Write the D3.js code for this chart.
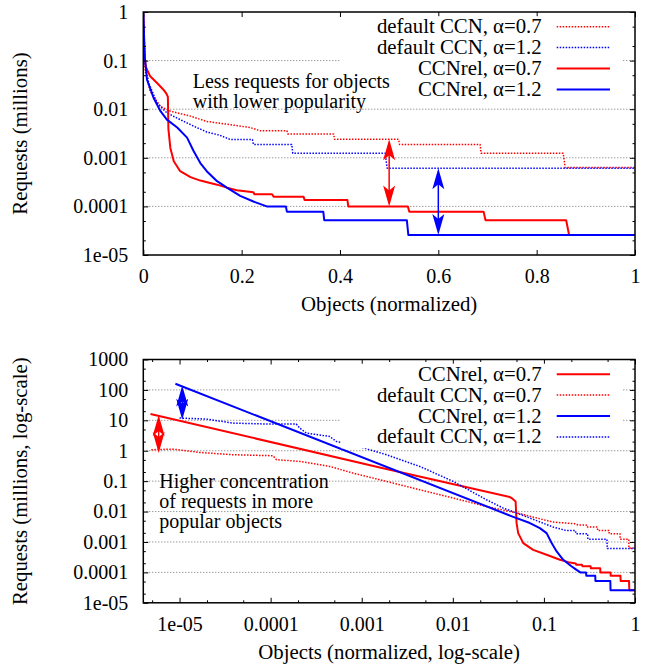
<!DOCTYPE html>
<html>
<head>
<meta charset="utf-8">
<script src="https://cdn.jsdelivr.net/npm/d3@7"></script>
<style>
  body { margin: 0; background: #fff; }
</style>
</head>
<body>
<div id="chart"></div>
<script>
// Series data: [objects (normalized), requests (millions)]
// Top panel (linear x)
const topDefault07 = [[0,1],[0.002,0.113],[0.004,0.06],[0.014,0.0233],[0.035,0.0114],[0.055,0.0091],[0.096,0.0072],[0.129,0.0056],[0.177,0.0048],[0.217,0.0042],[0.238,0.0036],[0.292,0.0036],[0.294,0.0031],[0.387,0.0031],[0.389,0.0024],[0.519,0.0024],[0.521,0.00188],[0.685,0.00188],[0.687,0.00124],[0.854,0.00124],[0.856,0.0009],[0.858,0.00063],[1,0.00063]];
const topDefault12 = [[0,1],[0.004,0.082],[0.011,0.0346],[0.028,0.0134],[0.048,0.0084],[0.075,0.0061],[0.102,0.0045],[0.129,0.0034],[0.156,0.0029],[0.177,0.00237],[0.222,0.00237],[0.224,0.00188],[0.302,0.00188],[0.304,0.00124],[0.492,0.00124],[0.494,0.00085],[0.496,0.00061],[1,0.00061]];
const topRel07 = [[0,1],[0.002,0.15],[0.005,0.075],[0.014,0.0475],[0.028,0.0346],[0.041,0.0252],[0.047,0.021],[0.05,0.018],[0.051,0.004],[0.053,0.0025],[0.055,0.0016],[0.062,0.00085],[0.075,0.00053],[0.096,0.0004],[0.116,0.00034],[0.15,0.00028],[0.17,0.000243],[0.19,0.000215],[0.224,0.000195],[0.226,0.000178],[0.262,0.000178],[0.265,0.000158],[0.326,0.000158],[0.328,0.000136],[0.415,0.000136],[0.417,0.0001],[0.538,0.0001],[0.541,0.000078],[0.692,0.000078],[0.696,0.000052],[0.86,0.000052],[0.866,0.0000258],[1,0.0000258]];
const topRel12 = [[0,1],[0.003,0.12],[0.0075,0.0404],[0.021,0.017],[0.035,0.0091],[0.048,0.0061],[0.069,0.0042],[0.089,0.0026],[0.102,0.0014],[0.116,0.00078],[0.129,0.00053],[0.15,0.00033],[0.17,0.000243],[0.197,0.000165],[0.224,0.000126],[0.251,0.0001],[0.29,0.0001],[0.292,0.000078],[0.366,0.000078],[0.368,0.000052],[0.536,0.000052],[0.539,0.0000258],[1,0.0000258]];

// Bottom panel (log x)
const botRel07 = [[4.8e-6,16.1],[0.00158,0.283],[0.0423,0.03],[0.0442,0.0278],[0.0489,0.0215],[0.0501,0.00418],[0.0522,0.00196],[0.0593,0.00092],[0.0762,0.00055],[0.107,0.00038],[0.15,0.00026],[0.193,0.00021],[0.224,0.000195],[0.226,0.000178],[0.262,0.000178],[0.265,0.000158],[0.326,0.000158],[0.328,0.000136],[0.415,0.000136],[0.417,0.0001],[0.538,0.0001],[0.541,0.000078],[0.692,0.000078],[0.696,0.000052],[0.86,0.000052],[0.866,0.0000258],[1,0.0000258]];
const botDefault07 = [[4.9e-6,1.08],[8.5e-6,1.13],[1.66e-5,0.88],[3.85e-5,0.74],[1.06e-4,0.685],[1.16e-4,0.506],[2.08e-4,0.446],[3.45e-4,0.346],[4.45e-4,0.305],[8.0e-4,0.184],[0.00187,0.098],[0.00434,0.052],[0.0101,0.0278],[0.0234,0.0147],[0.0545,0.0085],[0.126,0.0045],[0.217,0.004],[0.238,0.0036],[0.292,0.0036],[0.294,0.0031],[0.387,0.0031],[0.389,0.0024],[0.519,0.0024],[0.521,0.00188],[0.685,0.00188],[0.687,0.00124],[0.854,0.00124],[0.856,0.0009],[0.858,0.00063],[1,0.00063]];
const botRel12 = [[9.0e-6,160],[0.046,0.0067],[0.0702,0.0042],[0.0903,0.00286],[0.107,0.00196],[0.1216,0.00092],[0.138,0.00049],[0.163,0.00026],[0.197,0.000165],[0.224,0.000126],[0.251,0.0001],[0.29,0.0001],[0.292,0.000078],[0.366,0.000078],[0.368,0.000052],[0.536,0.000052],[0.539,0.0000258],[1,0.0000258]];
const botDefault12 = [[1e-5,11.9],[1.96e-5,11.0],[3.85e-5,8.1],[8.97e-5,7.55],[1.91e-4,7.55],[2.08e-4,5.6],[2.47e-4,3.8],[4.45e-4,2.95],[5.27e-4,2.02],[8.0e-4,1.57],[0.00187,0.738],[0.00434,0.305],[0.0101,0.098],[0.0234,0.0244],[0.0357,0.013],[0.0545,0.0082],[0.126,0.0031],[0.177,0.00237],[0.222,0.00237],[0.224,0.00188],[0.302,0.00188],[0.304,0.00124],[0.492,0.00124],[0.494,0.00085],[0.496,0.00061],[1,0.00061]];

// Tick values and labels
const topXTicks = [0, 0.2, 0.4, 0.6, 0.8, 1];
const topXLabels = ["0", "0.2", "0.4", "0.6", "0.8", "1"];
const topYTicks = [1, 0.1, 0.01, 0.001, 0.0001, 0.00001];
const topYLabels = ["1", "0.1", "0.01", "0.001", "0.0001", "1e-05"];
const botXTicks = [1e-5, 1e-4, 1e-3, 1e-2, 1e-1, 1];
const botXLabels = ["1e-05", "0.0001", "0.001", "0.01", "0.1", "1"];
const botYTicks = [1000, 100, 10, 1, 0.1, 0.01, 0.001, 0.0001, 0.00001];
const botYLabels = ["1000", "100", "10", "1", "0.1", "0.01", "0.001", "0.0001", "1e-05"];

// Legend / annotation text
const topLegend = ["default CCN, α=0.7", "default CCN, α=1.2", "CCNrel, α=0.7", "CCNrel, α=1.2"];
const botLegend = ["CCNrel, α=0.7", "default CCN, α=0.7", "CCNrel, α=1.2", "default CCN, α=1.2"];
const topNote = ["Less requests for objects", "with lower popularity"];
const botNote = ["Higher concentration", "of requests in more", "popular objects"];

// Arrows (x, from, to)
const topArrowX = [0.5, 0.6];
const topArrowFrom = [0.0024, 0.00061];
const topArrowTo = [0.0001, 0.0000258];
const botArrowX = [5.9e-6, 1.07e-5];
const botArrowFrom = [15, 140];
const botArrowTo = [0.85, 10.5];

const width = 651;
const height = 669;
const font = '"Liberation Serif", "Times New Roman", serif';
const red = "#ff0000";
const blue = "#0000ff";

const svg = d3
  .select("#chart")
  .append("svg")
  .attr("width", width)
  .attr("height", height);

// minor ticks at 2x and 5x of each decade
const minorTicks = (lo, hi) => {
  const out = [];
  for (let e = lo; e < hi; e++) {
    out.push(2 * Math.pow(10, e), 5 * Math.pow(10, e));
  }
  return out;
};

const addText = (g, str, size = 20.8) =>
  g.append("text")
    .style("font-family", font)
    .style("font-size", `${size}px`)
    .attr("fill", "#000")
    .text(str);

const styleAxis = (sel) => {
  sel.attr("font-family", null).attr("font-size", null);
  sel.select(".domain").remove();
  sel.selectAll("line").attr("stroke", "#000").attr("stroke-width", 1);
  sel
    .selectAll("text")
    .style("font-family", font)
    .style("font-size", "20px")
    .attr("fill", "#000");
};

const arrowHead = (g, cx, tipY, dir, color) => {
  // dir = 1 -> head points up, -1 -> head points down
  const L = 21, w = 6, notch = 5;
  g.append("path")
    .attr(
      "d",
      `M${cx},${tipY} L${cx - w},${tipY + dir * L} L${cx},${tipY + dir * (L - notch)} L${cx + w},${tipY + dir * L} Z`
    )
    .attr("fill", color);
};

function drawPanel(cfg) {
  const { x, y, id } = cfg;
  const [left, right] = x.range();
  const [bottom, top] = y.range();
  const g = svg.append("g");

  svg
    .append("clipPath")
    .attr("id", id)
    .append("rect")
    .attr("x", left)
    .attr("y", top)
    .attr("width", right - left)
    .attr("height", bottom - top);

  // Grid
  const dom = y.domain();
  g.append("g")
    .selectAll("line")
    .data(cfg.yTicks.filter((v) => v !== dom[0] && v !== dom[1]))
    .join("line")
    .attr("x1", left)
    .attr("x2", right)
    .attr("y1", (d) => y(d))
    .attr("y2", (d) => y(d))
    .attr("stroke", "#707070")
    .attr("stroke-width", 1)
    .attr("stroke-dasharray", "1,2");

  // Series
  const line = d3
    .line()
    .x((d) => x(d[0]))
    .y((d) => y(d[1]));
  const plot = g.append("g").attr("clip-path", `url(#${id})`);
  cfg.series.forEach((s) => {
    plot
      .append("path")
      .datum(s.data)
      .attr("d", line)
      .attr("fill", "none")
      .attr("stroke", s.color)
      .attr("stroke-width", s.dotted ? 1.5 : 2)
      .attr("stroke-dasharray", s.dotted ? "1.5,1.5" : null)
      .attr("stroke-linejoin", "round");
  });

  // Arrows
  cfg.arrows.x.forEach((ax, i) => {
    const cx = x(ax);
    const y1 = y(cfg.arrows.from[i]);
    const y2 = y(cfg.arrows.to[i]);
    const color = cfg.arrows.colors[i];
    g.append("line")
      .attr("x1", cx)
      .attr("x2", cx)
      .attr("y1", y1 + 8)
      .attr("y2", y2 - 8)
      .attr("stroke", color)
      .attr("stroke-width", 1.5);
    arrowHead(g, cx, y1, 1, color);
    arrowHead(g, cx, y2, -1, color);
  });

  // Axes (ticks inward, mirrored)
  const tick = -5, minor = -2.5;
  g.append("g")
    .attr("transform", `translate(0,${bottom})`)
    .call(
      d3.axisBottom(x).tickValues(cfg.xTicks)
        .tickFormat((d, i) => cfg.xLabels[i])
        .tickSizeInner(tick).tickSizeOuter(0).tickPadding(14)
    )
    .call(styleAxis);
  g.append("g")
    .attr("transform", `translate(0,${top})`)
    .call(d3.axisTop(x).tickValues(cfg.xTicks).tickFormat("").tickSizeInner(tick).tickSizeOuter(0))
    .call(styleAxis);
  g.append("g")
    .attr("transform", `translate(${left},0)`)
    .call(
      d3.axisLeft(y).tickValues(cfg.yTicks)
        .tickFormat((d, i) => cfg.yLabels[i])
        .tickSizeInner(tick).tickSizeOuter(0).tickPadding(15)
    )
    .call(styleAxis);
  g.append("g")
    .attr("transform", `translate(${right},0)`)
    .call(d3.axisRight(y).tickValues(cfg.yTicks).tickFormat("").tickSizeInner(tick).tickSizeOuter(0))
    .call(styleAxis);
  // minor ticks
  g.append("g")
    .attr("transform", `translate(${left},0)`)
    .call(d3.axisLeft(y).tickValues(cfg.yMinor).tickFormat("").tickSizeInner(minor).tickSizeOuter(0))
    .call(styleAxis);
  g.append("g")
    .attr("transform", `translate(${right},0)`)
    .call(d3.axisRight(y).tickValues(cfg.yMinor).tickFormat("").tickSizeInner(minor).tickSizeOuter(0))
    .call(styleAxis);
  if (cfg.xMinor) {
    g.append("g")
      .attr("transform", `translate(0,${bottom})`)
      .call(d3.axisBottom(x).tickValues(cfg.xMinor).tickFormat("").tickSizeInner(minor).tickSizeOuter(0))
      .call(styleAxis);
    g.append("g")
      .attr("transform", `translate(0,${top})`)
      .call(d3.axisTop(x).tickValues(cfg.xMinor).tickFormat("").tickSizeInner(minor).tickSizeOuter(0))
      .call(styleAxis);
  }

  // Legend (opaque key)
  const rowH = 20.9;
  const keyTop = top + 14.7;
  const textRight = right - 93.3;
  g.append("rect")
    .attr("x", right - 294)
    .attr("y", keyTop - 10.5)
    .attr("width", 281)
    .attr("height", rowH * cfg.series.length + 1)
    .attr("fill", "#fff");
  cfg.series.forEach((s, i) => {
    const ry = keyTop + i * rowH;
    addText(g, cfg.legend[i])
      .attr("x", textRight)
      .attr("y", ry + 6.5)
      .attr("text-anchor", "end");
    g.append("line")
      .attr("x1", textRight + 15)
      .attr("x2", textRight + 68.3)
      .attr("y1", ry)
      .attr("y2", ry)
      .attr("stroke", s.color)
      .attr("stroke-width", s.dotted ? 1.5 : 2)
      .attr("stroke-dasharray", s.dotted ? "1.5,1.5" : null);
  });

  // Annotation
  cfg.note.forEach((t, i) => {
    addText(g, t, 20)
      .attr("x", cfg.noteX)
      .attr("y", cfg.noteY + i * cfg.noteStep);
  });

  // Axis titles
  addText(g, cfg.xTitle)
    .attr("x", (left + right) / 2)
    .attr("y", bottom + 56)
    .attr("text-anchor", "middle");
  addText(g, cfg.yTitle)
    .attr("transform", `translate(27, ${(top + bottom) / 2}) rotate(-90)`)
    .attr("text-anchor", "middle");

  // Border
  g.append("rect")
    .attr("x", left)
    .attr("y", top)
    .attr("width", right - left)
    .attr("height", bottom - top)
    .attr("fill", "none")
    .attr("stroke", "#000")
    .attr("stroke-width", 1.5);
}

// Top panel
drawPanel({
  id: "clip-top",
  x: d3.scaleLinear().domain([0, 1]).range([143.3, 635]),
  y: d3.scaleLog().domain([1e-5, 1]).range([255, 12]),
  xTicks: topXTicks,
  xLabels: topXLabels,
  yTicks: topYTicks,
  yLabels: topYLabels,
  yMinor: minorTicks(-5, 0),
  series: [
    { data: topDefault07, color: red, dotted: true },
    { data: topDefault12, color: blue, dotted: true },
    { data: topRel07, color: red, dotted: false },
    { data: topRel12, color: blue, dotted: false },
  ],
  legend: topLegend,
  note: topNote,
  noteX: 192.7,
  noteY: 87.5,
  noteStep: 20,
  arrows: { x: topArrowX, from: topArrowFrom, to: topArrowTo, colors: [red, blue] },
  xTitle: "Objects (normalized)",
  yTitle: "Requests (millions)",
});

// Bottom panel
drawPanel({
  id: "clip-bot",
  x: d3.scaleLog().domain([4e-6, 1]).range([143.3, 635]),
  y: d3.scaleLog().domain([1e-5, 1000]).range([602.8, 359.5]),
  xTicks: botXTicks,
  xLabels: botXLabels,
  xMinor: [5e-6].concat(minorTicks(-5, 0)),
  yTicks: botYTicks,
  yLabels: botYLabels,
  yMinor: minorTicks(-5, 3),
  series: [
    { data: botRel07, color: red, dotted: false },
    { data: botDefault07, color: red, dotted: true },
    { data: botRel12, color: blue, dotted: false },
    { data: botDefault12, color: blue, dotted: true },
  ],
  legend: botLegend,
  note: botNote,
  noteX: 159.3,
  noteY: 488.3,
  noteStep: 20,
  arrows: { x: botArrowX, from: botArrowFrom, to: botArrowTo, colors: [red, blue] },
  xTitle: "Objects (normalized, log-scale)",
  yTitle: "Requests (millions, log-scale)",
});
</script>
</body>
</html>
